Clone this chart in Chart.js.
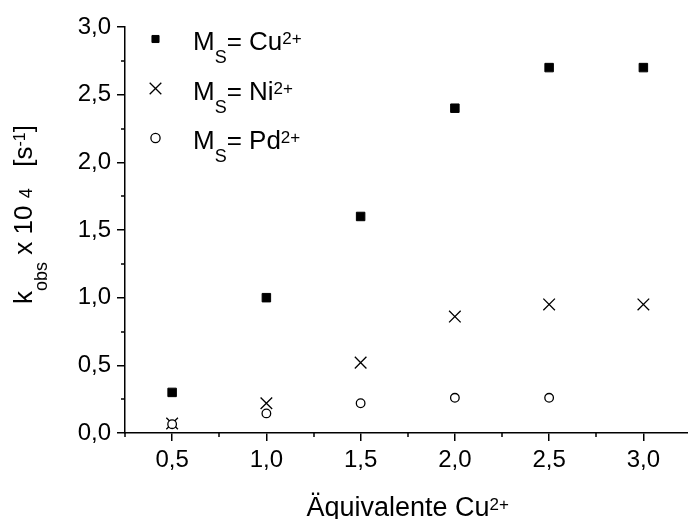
<!DOCTYPE html>
<html><head><meta charset="utf-8">
<script src="https://cdn.jsdelivr.net/npm/chart.js@4/dist/chart.umd.min.js"></script>
<style>
html,body{margin:0;padding:0;background:#fff;overflow:hidden;width:688px;height:519px}
#wrap{width:700px;height:519px}
</style></head>
<body><div id="wrap"><canvas id="c" width="700" height="519"></canvas></div>
<script>
// ---- data ----
const equivalents = [0.5, 1.0, 1.5, 2.0, 2.5, 3.0];
const kCu = [0.30, 1.00, 1.60, 2.40, 2.70, 2.70];
const kNi = [0.07, 0.22, 0.52, 0.86, 0.95, 0.95];
const kPd = [0.065, 0.145, 0.22, 0.26, 0.26, null];
const ionNames = ['Cu', 'Ni', 'Pd'];
const ionCharge = '2+';
const xTickValues = [0.5, 1.0, 1.5, 2.0, 2.5, 3.0];
const xTickLabels = ['0,5', '1,0', '1,5', '2,0', '2,5', '3,0'];
const xMinorTicks = [0.25, 0.75, 1.25, 1.75, 2.25, 2.75];
const yTickValues = [0, 0.5, 1.0, 1.5, 2.0, 2.5, 3.0];
const yTickLabels = ['0,0', '0,5', '1,0', '1,5', '2,0', '2,5', '3,0'];
const yMinorTicks = [0.25, 0.75, 1.25, 1.75, 2.25, 2.75];

const FF = "'Liberation Sans', Arial, sans-serif";

function pts(vals) {
  const out = [];
  equivalents.forEach((x, i) => { if (vals[i] !== null) out.push({x: x, y: vals[i]}); });
  return out;
}

function drawRich(ctx, parts, x, y) {
  let cx = x;
  for (const [t, s, dy] of parts) {
    ctx.font = s + 'px ' + FF;
    ctx.fillText(t, cx, y + dy);
    cx += ctx.measureText(t).width;
  }
  return cx - x;
}
function measureRich(ctx, parts) {
  let w = 0;
  for (const [t, s] of parts) { ctx.font = s + 'px ' + FF; w += ctx.measureText(t).width; }
  return w;
}

const decor = {
  id: 'decor',
  afterDraw(chart) {
    const ctx = chart.ctx, a = chart.chartArea;
    const xs = chart.scales.x, ys = chart.scales.y;
    ctx.save();
    // minor ticks
    ctx.strokeStyle = '#000'; ctx.lineWidth = 1.5;
    ctx.beginPath();
    for (const v of xMinorTicks) {
      const px = Math.round(xs.getPixelForValue(v));
      ctx.moveTo(px, a.bottom); ctx.lineTo(px, a.bottom + 4);
    }
    for (const v of yMinorTicks) {
      const py = Math.round(ys.getPixelForValue(v));
      ctx.moveTo(a.left - 4, py); ctx.lineTo(a.left, py);
    }
    ctx.stroke();

    ctx.fillStyle = '#000';
    ctx.textBaseline = 'alphabetic';
    ctx.textAlign = 'left';

    // legend
    chart.data.datasets.forEach((ds, i) => {
      const my = a.top + 12 + i * 49.5;
      const mx = a.left + 30.5;
      ctx.save();
      ctx.fillStyle = ds.backgroundColor;
      ctx.strokeStyle = ds.borderColor;
      ctx.lineWidth = ds.borderWidth;
      const r = ds.pointStyle === 'rect' ? 5 : (ds.pointStyle === 'circle' ? 4.6 : ds.pointRadius);
      Chart.helpers.drawPoint(ctx, {pointStyle: ds.pointStyle, radius: r, rotation: 0, borderWidth: ds.borderWidth}, mx, my);
      ctx.restore();
      ctx.fillStyle = '#000';
      drawRich(ctx, [['M', 26, 0], ['S', 18, 13], ['= ' + ionNames[i], 26, 0], [ionCharge, 17, -6]], a.left + 68, my + 11);
    });

    // x title
    const xParts = [['Äquivalente Cu', 27, 0], ['2+', 17, -6]];
    const xw = measureRich(ctx, xParts);
    drawRich(ctx, xParts, (a.left + a.right) / 2 - xw / 2, a.bottom + 82.5);

    // y title
    const yParts = [['k', 26, 0], ['obs', 18, 15], [' x 10 ', 26, 0], ['4', 18, 0], ['   [s', 26, 0], ['-1', 16, -7], [']', 26, 0]];
    const yw = measureRich(ctx, yParts);
    ctx.translate(a.left - 93, (a.top + a.bottom) / 2 - 15.5);
    ctx.rotate(-Math.PI / 2);
    drawRich(ctx, yParts, -yw / 2, 0);
    ctx.restore();
  }
};

new Chart(document.getElementById('c'), {
  type: 'scatter',
  data: {
    datasets: [
      {label: 'Cu', data: pts(kCu), pointStyle: 'rect', pointRadius: 6, backgroundColor: '#000', borderColor: '#000', borderWidth: 1, order: 3},
      {label: 'Ni', data: pts(kNi), pointStyle: 'crossRot', pointRadius: 8.2, backgroundColor: '#000', borderColor: '#000', borderWidth: 1.3, order: 2},
      {label: 'Pd', data: pts(kPd), pointStyle: 'circle', pointRadius: 4.3, backgroundColor: '#fff', borderColor: '#000', borderWidth: 1.3, order: 1}
    ]
  },
  options: {
    responsive: false,
    animation: false,
    events: [],
    devicePixelRatio: 1,
    layout: {padding: {left: 0, top: 27, right: 8, bottom: 0}},
    plugins: {legend: {display: false}, tooltip: {enabled: false}},
    scales: {
      x: {
        type: 'linear', min: 0.25, max: 3.25,
        afterBuildTicks: s => { s.ticks = xTickValues.map(v => ({value: v})); },
        afterFit: s => { s.height = 86; },
        grid: {drawOnChartArea: false, drawTicks: true, tickLength: 8, color: '#000', lineWidth: 1.5},
        border: {display: true, color: '#000', width: 1.5},
        ticks: {color: '#000', font: {family: FF, size: 24}, padding: 5, maxRotation: 0,
                callback: (v, i) => xTickLabels[i]}
      },
      y: {
        type: 'linear', min: 0, max: 3.0,
        afterBuildTicks: s => { s.ticks = yTickValues.map(v => ({value: v})); },
        afterFit: s => { s.width = 125; },
        grid: {drawOnChartArea: false, drawTicks: true, tickLength: 8, color: '#000', lineWidth: 1.5},
        border: {display: true, color: '#000', width: 1.5},
        ticks: {color: '#000', font: {family: FF, size: 24}, padding: 6,
                callback: (v, i) => yTickLabels[i]}
      }
    }
  },
  plugins: [decor]
});
</script>
</body></html>
